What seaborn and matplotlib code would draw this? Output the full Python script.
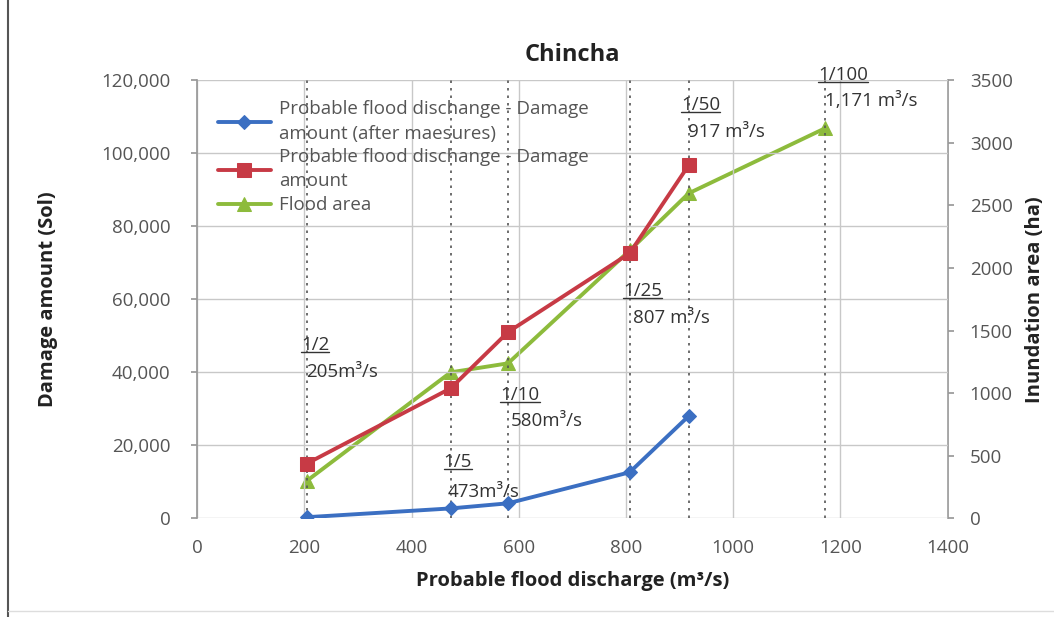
import matplotlib
matplotlib.use("Agg")
import matplotlib.pyplot as plt
import seaborn as sns
import pandas as pd
from matplotlib.ticker import FuncFormatter

sns.set_theme(style="whitegrid")
plt.rcParams["font.family"] = ["Open Sans", "DejaVu Sans"]

# data
discharge = [205, 473, 580, 807, 917, 1171]
damage_after = [300, 2700, 4100, 12600, 28000]
damage = [15000, 35600, 51000, 72600, 96700]
flood_area = [300, 1166, 1238, 2140, 2596, 3115]

return_periods = ["1/2", "1/5", "1/10", "1/25", "1/50", "1/100"]
flow_labels = ["205m³/s", "473m³/s", "580m³/s", "807 m³/s", "917 m³/s", "1,171 m³/s"]
# label anchors (x, y on damage axis)
period_pos = [(194, 47400), (460, 15300), (566, 33700), (795, 62200), (903, 113200), (1158, 121400)]
flow_pos = [(203, 40000), (467, 7100), (586, 26600), (813, 54800), (916, 105800), (1171, 114300)]

COLORS = {
    "after": "#3b6fc2",
    "damage": "#c73a45",
    "area": "#8dbb3c",
}

df_after = pd.DataFrame({"x": discharge[:5], "y": damage_after})
df_dmg = pd.DataFrame({"x": discharge[:5], "y": damage})
df_area = pd.DataFrame({"x": discharge, "y": flood_area})

fig = plt.figure(figsize=(10.54, 6.17), dpi=100)
ax = fig.add_axes([0.187, 0.160, 0.712, 0.710])
ax2 = ax.twinx()

for x in discharge:
    ax.axvline(x, color="#555555", ls=(0, (1.5, 3)), lw=1.2, zorder=1)

sns.lineplot(data=df_after, x="x", y="y", ax=ax, color=COLORS["after"], marker="D",
             markersize=7, markeredgecolor=COLORS["after"], lw=2.8, zorder=3,
             label="Probable flood dischange - Damage\namount (after maesures)")
sns.lineplot(data=df_dmg, x="x", y="y", ax=ax, color=COLORS["damage"], marker="s",
             markersize=10, markeredgecolor=COLORS["damage"], lw=2.8, zorder=3,
             label="Probable flood dischange - Damage\namount")
sns.lineplot(data=df_area, x="x", y="y", ax=ax2, color=COLORS["area"], marker="^",
             markersize=10, markeredgecolor=COLORS["area"], lw=2.8, zorder=3,
             label="Flood area")

ax.set_xlim(0, 1400)
ax.set_ylim(0, 120000)
ax2.set_ylim(0, 3500)
ax.set_xticks(range(0, 1401, 200))
ax.set_yticks(range(0, 120001, 20000))
ax2.set_yticks(range(0, 3501, 500))
ax.yaxis.set_major_formatter(FuncFormatter(lambda v, p: f"{int(v):,}"))
ax2.grid(False)
ax.grid(True, color="#c8c8c8", lw=1)

for a in (ax, ax2):
    for s in a.spines.values():
        s.set_visible(False)
ax.spines["left"].set_visible(True)
ax.spines["left"].set_color("#999999")
ax2.spines["right"].set_visible(True)
ax2.spines["right"].set_color("#999999")

ax.tick_params(axis="x", labelsize=13.5, labelcolor="#555555", length=0, pad=15)
ax.tick_params(axis="y", labelsize=13.5, labelcolor="#555555", length=4,
               color="#999999", pad=15)
ax2.tick_params(axis="y", labelsize=13.5, labelcolor="#555555", length=4,
                color="#999999", pad=12)

ax.set_xlabel("Probable flood discharge (m³/s)", fontsize=14.5, fontweight="bold",
              color="#222222", labelpad=10)
ax.set_ylabel("Damage amount (Sol)", fontsize=14.5, fontweight="bold",
              color="#222222", labelpad=31)
ax2.set_ylabel("Inundation area (ha)", fontsize=14.5, fontweight="bold",
               color="#222222", labelpad=9)
ax.set_title("Chincha", fontsize=17, fontweight="bold", color="#222222", pad=14)

period_texts = []
for rp, (px, py) in zip(return_periods, period_pos):
    t = ax.text(px, py, rp, fontsize=13.5, color="#333333", ha="left", va="center",
                zorder=4, clip_on=False)
    period_texts.append(t)
for fl, (px, py) in zip(flow_labels, flow_pos):
    ax.text(px, py, fl, fontsize=13.5, color="#333333", ha="left", va="center", zorder=4)

h1, l1 = ax.get_legend_handles_labels()
h2, l2 = ax2.get_legend_handles_labels()
if ax2.get_legend():
    ax2.get_legend().remove()
leg = ax.legend(h1 + h2, l1 + l2, loc="upper left", bbox_to_anchor=(0.013, 0.98),
                frameon=False, fontsize=13.5, labelcolor="#555555", handlelength=2.8,
                handletextpad=0.45, labelspacing=0.3, borderaxespad=0.2)
for txt in leg.get_texts():
    txt.set_linespacing(1.45)

ax.set_zorder(ax2.get_zorder() + 1)
ax.patch.set_visible(False)

# underline the return period labels
fig.canvas.draw()
renderer = fig.canvas.get_renderer()
for t in period_texts:
    bb = t.get_window_extent(renderer).transformed(fig.transFigure.inverted())
    fig.add_artist(plt.Line2D([bb.x0, bb.x1], [bb.y0 + 0.004, bb.y0 + 0.004],
                              color="#333333", lw=1.0))

fig.add_artist(plt.Line2D([0.008, 0.008], [0.0, 1.0], color="#555555", lw=1.5))
fig.add_artist(plt.Line2D([0.008, 1.0], [0.01, 0.01], color="#dddddd", lw=1.0))

fig.savefig("out.png", dpi=100)
